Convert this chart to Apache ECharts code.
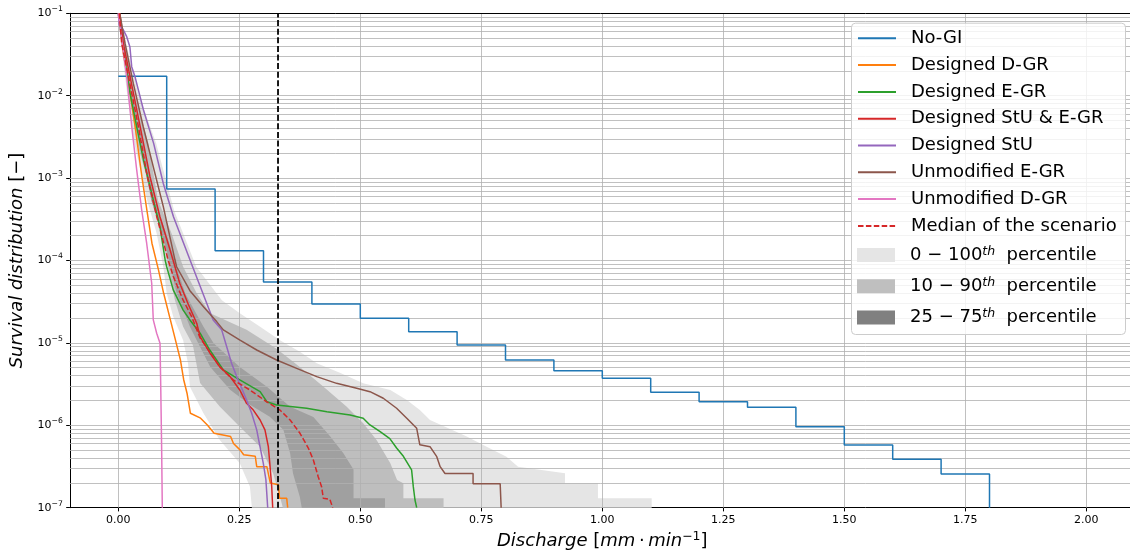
<!DOCTYPE html>
<html><head><meta charset="utf-8">
<script src="https://cdn.jsdelivr.net/npm/echarts@6/dist/echarts.min.js"></script>
<style>html,body{margin:0;padding:0;background:#fff}#c{width:1130px;height:554px}</style>
</head><body><div id="c"></div>
<script>
// ---------- axis ticks ----------
const xTicks = [0, 0.25, 0.5, 0.75, 1.0, 1.25, 1.5, 1.75, 2.0];
const yDecades = [1e-7, 1e-6, 1e-5, 1e-4, 1e-3, 1e-2, 1e-1];
const dischargeThreshold = 0.33;

// ---------- series values [discharge, survival] ----------
const noGI = [[0,1.72e-2],[0.1,7.4e-4],[0.2,1.31e-4],[0.3,5.5e-5],[0.4,2.97e-5],[0.5,1.99e-5],[0.6,1.37e-5],[0.7,9.4e-6],[0.8,6.2e-6],[0.9,4.6e-6],[1.0,3.73e-6],[1.1,2.51e-6],[1.2,1.93e-6],[1.3,1.66e-6],[1.4,9.6e-7],[1.5,5.75e-7],[1.6,3.86e-7],[1.7,2.57e-7],[1.8,1e-7]];
const designedDGR = [[0.002,1e-1],[0.0104,3.3e-2],[0.0244,1.07e-2],[0.0348,4.2e-3],[0.0487,1.04e-3],[0.059,4.1e-4],[0.0695,1.62e-4],[0.083,7.7e-5],[0.0937,4.0e-5],[0.1076,1.9e-5],[0.118,1.09e-5],[0.1284,6.2e-6],[0.135,3.6e-6],[0.142,2.45e-6],[0.149,1.4e-6],[0.17,1.22e-6],[0.184,1.01e-6],[0.198,8.0e-7],[0.232,7.3e-7],[0.238,6.0e-7],[0.252,5.0e-7],[0.259,4.4e-7],[0.283,4.2e-7],[0.286,3.15e-7],[0.307,3.15e-7],[0.314,2.0e-7],[0.331,1.9e-7],[0.333,1.3e-7],[0.348,1.3e-7],[0.350,1e-7]];
const designedEGR = [[0.0,1e-1],[0.0035,6.9e-2],[0.014,2.7e-2],[0.0243,1.07e-2],[0.038,4.2e-3],[0.052,1.66e-3],[0.069,6.5e-4],[0.086,2.57e-4],[0.097,1.0e-4],[0.1,8.4e-5],[0.1135,4.4e-5],[0.134,2.5e-5],[0.148,1.9e-5],[0.169,1.31e-5],[0.189,8.2e-6],[0.217,4.7e-6],[0.251,3.55e-6],[0.293,2.56e-6],[0.307,1.93e-6],[0.327,1.76e-6],[0.389,1.61e-6],[0.431,1.46e-6],[0.479,1.33e-6],[0.506,1.22e-6],[0.52,1.01e-6],[0.541,8.4e-7],[0.561,6.9e-7],[0.575,5.3e-7],[0.589,4.2e-7],[0.606,2.87e-7],[0.6095,1.8e-7],[0.613,1.24e-7],[0.6165,1e-7]];
const designedStUEGR = [[0.003,1e-1],[0.0104,4.3e-2],[0.0243,1.7e-2],[0.0452,4.2e-3],[0.0655,1.04e-3],[0.086,3.4e-4],[0.107,1.34e-4],[0.127,5.3e-5],[0.145,2.9e-5],[0.162,1.73e-5],[0.169,1.19e-5],[0.1895,7.5e-6],[0.21,5.1e-6],[0.231,3.9e-6],[0.251,2.68e-6],[0.265,1.85e-6],[0.279,1.53e-6],[0.293,1.16e-6],[0.303,8.8e-7],[0.31,5.5e-7],[0.313,3.46e-7],[0.317,1.8e-7],[0.319,1e-7]];
const designedStU = [[0.0,1e-1],[0.002,7.2e-2],[0.0103,6.3e-2],[0.0174,5.2e-2],[0.024,3.9e-2],[0.0277,2.25e-2],[0.0345,1.7e-2],[0.052,6.7e-3],[0.073,2.64e-3],[0.093,8.6e-4],[0.114,3.4e-4],[0.148,1.02e-4],[0.196,1.9e-5],[0.2136,1.44e-5],[0.224,9.0e-6],[0.234,5.65e-6],[0.2446,3.9e-6],[0.255,2.81e-6],[0.265,2.03e-6],[0.2756,1.4e-6],[0.286,8.8e-7],[0.2928,5.5e-7],[0.2996,3.46e-7],[0.305,2.17e-7],[0.3087,1e-7]];
const unmodifiedEGR = [[0.003,1e-1],[0.014,4.3e-2],[0.031,1.41e-2],[0.0515,4.2e-3],[0.0723,1.37e-3],[0.093,4.5e-4],[0.117,1.02e-4],[0.1205,8.4e-5],[0.148,4.3e-5],[0.176,2.75e-5],[0.2036,1.8e-5],[0.217,1.44e-5],[0.2514,1.08e-5],[0.286,8.2e-6],[0.327,6.2e-6],[0.3686,4.9e-6],[0.41,3.9e-6],[0.451,3.23e-6],[0.4926,2.81e-6],[0.52,2.56e-6],[0.5475,2.13e-6],[0.575,1.61e-6],[0.596,1.22e-6],[0.6165,9.2e-7],[0.623,5.8e-7],[0.644,5.5e-7],[0.658,4.16e-7],[0.665,3.15e-7],[0.675,2.6e-7],[0.733,2.6e-7],[0.733,1.95e-7],[0.789,1.95e-7],[0.791,1e-7]];
const unmodifiedDGR = [[0.0,1e-1],[0.0035,6.9e-2],[0.0174,1.7e-2],[0.0278,4.2e-3],[0.038,1.26e-3],[0.0483,4.1e-4],[0.0586,1.62e-4],[0.069,5.3e-5],[0.0723,1.9e-5],[0.0793,1.31e-5],[0.0862,9.9e-6],[0.0876,3.2e-6],[0.0896,5.0e-7],[0.0909,1e-7]];
const medianScenario = [[0.002,1e-1],[0.007,4.3e-2],[0.021,1.7e-2],[0.0415,4.2e-3],[0.06,1.04e-3],[0.0795,3.4e-4],[0.1033,1.0e-4],[0.1137,6.4e-5],[0.134,3.3e-5],[0.1516,2.08e-5],[0.169,1.15e-5],[0.19,7.6e-6],[0.21,5.1e-6],[0.2376,3.55e-6],[0.272,2.68e-6],[0.3066,1.93e-6],[0.334,1.53e-6],[0.355,1.16e-6],[0.3754,8.0e-7],[0.3926,5.3e-7],[0.403,3.8e-7],[0.413,2.38e-7],[0.42,1.8e-7],[0.4236,1.3e-7],[0.437,1.27e-7],[0.443,1e-7]];

// percentile bands: left and right edges, top to bottom
const p0_100Left = [[0.0,1e-1],[0.0056,4.36e-2],[0.018,1.08e-2],[0.033,2.67e-3],[0.0596,5.4e-4],[0.079,2.16e-4],[0.093,8.4e-5],[0.1,4.0e-5],[0.1136,2.08e-5],[0.134,1.08e-5],[0.144,5.7e-6],[0.148,2.94e-6],[0.176,1.4e-6],[0.21,6.6e-7],[0.251,3.46e-7],[0.272,1.8e-7],[0.276,1e-7]];
const p0_100Right = [[0.0035,1e-1],[0.016,4.36e-2],[0.041,1.08e-2],[0.078,2.67e-3],[0.115,4.1e-4],[0.161,8.4e-5],[0.214,3.3e-5],[0.251,2.29e-5],[0.293,1.57e-5],[0.334,1.08e-5],[0.375,7.8e-6],[0.41,5.65e-6],[0.459,4.3e-6],[0.506,3.23e-6],[0.562,2.68e-6],[0.596,2.03e-6],[0.623,1.53e-6],[0.644,1.16e-6],[0.72,7.3e-7],[0.761,5.5e-7],[0.802,4.16e-7],[0.826,3.15e-7],[0.923,2.61e-7],[0.923,1.98e-7],[0.991,1.98e-7],[0.991,1.3e-7],[1.102,1.3e-7],[1.102,1e-7]];
const p10_90Left = [[0.0015,1e-1],[0.009,4.36e-2],[0.022,1.08e-2],[0.039,2.67e-3],[0.072,5.4e-4],[0.089,2.16e-4],[0.103,8.4e-5],[0.117,3.3e-5],[0.134,1.57e-5],[0.154,9.4e-6],[0.169,3.26e-6],[0.21,1.68e-6],[0.251,9.6e-7],[0.293,5.5e-7],[0.32,2.6e-7],[0.334,1.36e-7],[0.34,1e-7]];
const p10_90Right = [[0.0045,1e-1],[0.014,4.36e-2],[0.033,1.08e-2],[0.062,2.67e-3],[0.082,5.4e-4],[0.11,2.14e-4],[0.134,8.4e-5],[0.162,4.0e-5],[0.19,2.29e-5],[0.265,1.44e-5],[0.327,8.5e-6],[0.375,5.1e-6],[0.424,2.94e-6],[0.472,1.68e-6],[0.506,1.06e-6],[0.534,6.6e-7],[0.562,3.46e-7],[0.576,2.17e-7],[0.589,1.98e-7],[0.589,1.3e-7],[0.672,1.3e-7],[0.672,1e-7]];
const p25_75Left = [[0.0025,1e-1],[0.011,4.36e-2],[0.025,1.08e-2],[0.045,2.67e-3],[0.068,5.4e-4],[0.0998,1.34e-4],[0.1206,4.0e-5],[0.148,1.57e-5],[0.162,1.08e-5],[0.19,5.1e-6],[0.231,2.7e-6],[0.272,1.77e-6],[0.313,1.27e-6],[0.341,8.8e-7],[0.355,4.57e-7],[0.361,2.6e-7],[0.375,1.36e-7],[0.379,1e-7]];
const p25_75Right = [[0.0035,1e-1],[0.013,4.36e-2],[0.0285,1.08e-2],[0.051,2.67e-3],[0.076,5.4e-4],[0.11,1.34e-4],[0.138,4.0e-5],[0.176,1.57e-5],[0.197,9.9e-6],[0.251,5.1e-6],[0.307,2.94e-6],[0.355,1.68e-6],[0.403,1.26e-6],[0.438,7.3e-7],[0.465,4.57e-7],[0.486,2.9e-7],[0.486,1.3e-7],[0.551,1.3e-7],[0.551,1e-7]];

// ---------- derived grid values ----------
const X_MIN = -0.1, X_MAX = 2.1;
const yMinor = [];
for (let e = -7; e <= -2; e++) for (let k = 2; k <= 9; k++) yMinor.push(Number((k * Math.pow(10, e)).toPrecision(3)));

const FONT = 'DejaVu Sans';
const C = { blue:'#1f77b4', orange:'#ff7f0e', green:'#2ca02c', red:'#d62728', purple:'#9467bd', brown:'#8c564b', pink:'#e377c2' };

function lineS(name, data, color, extra) {
  return Object.assign({
    type: 'line', name, data, showSymbol: false, symbol: 'none', z: 10, silent: true,
    lineStyle: { color, width: 1.5 }, itemStyle: { color }, emphasis: { disabled: true }
  }, extra || {});
}
function bandS(name, left, right, color) {
  const poly = left.concat(right.slice().reverse());
  return {
    type: 'custom', name, coordinateSystem: 'cartesian2d', z: 1, silent: true,
    itemStyle: { color }, data: poly, encode: { x: 0, y: 1 },
    renderItem: function (params, api) {
      if (params.dataIndex !== 0) return null;
      return { type: 'polygon', shape: { points: poly.map(p => api.coord(p)) }, style: { fill: color } };
    }
  };
}

const minorTickLen = 0.0044; // in x data units (~2 px)
const gridLines = []
  .concat(xTicks.map(v => ({ xAxis: v })))
  .concat(yDecades.slice(1, -1).map(v => ({ yAxis: v })))
  .concat(yMinor.map(v => ({ yAxis: v })))
  .concat([{ yAxis: 1e-1, lineStyle: { color: '#000', width: 1 } }])
  .concat(yMinor.map(v => [
    { coord: [X_MIN - minorTickLen, v], lineStyle: { color: '#000', width: 0.8 } },
    { coord: [X_MIN, v] }
  ]));

const chart = echarts.init(document.getElementById('c'));
chart.setOption({
  animation: false,
  backgroundColor: '#fff',
  grid: { left: 69.9, right: -4.7, top: 13.3, bottom: 46.3, containLabel: false, outerBoundsMode: 'none' },
  xAxis: {
    type: 'value', min: X_MIN, max: X_MAX,
    name: '{i|Discharge} [{i|mm}\u2009·\u2009{i|min}{s|\u22121}]',
    nameLocation: 'middle', nameGap: 22,
    nameTextStyle: { fontSize: 18, fontFamily: FONT, color: '#000', lineHeight: 22,
      rich: { i: { fontStyle: 'italic', fontSize: 18, fontFamily: FONT, color: '#000', lineHeight: 22 },
              s: { fontSize: 12.5, fontFamily: FONT, color: '#000', verticalAlign: 'top', lineHeight: 12 } } },
    axisLine: { show: true, onZero: false, lineStyle: { color: '#000', width: 1 } },
    axisTick: { show: true, length: 3.7, customValues: xTicks, lineStyle: { color: '#000', width: 1 } },
    axisLabel: { customValues: xTicks, margin: 7, fontSize: 11, fontFamily: FONT, color: '#000',
      formatter: v => v.toFixed(2) },
    splitLine: { show: false }
  },
  yAxis: {
    type: 'log', logBase: 10, min: 1e-7, max: 1e-1,
    name: '{i|Survival distribution} [\u2212]', nameLocation: 'middle', nameGap: 42,
    nameTextStyle: { fontSize: 18, fontFamily: FONT, color: '#000',
      rich: { i: { fontStyle: 'italic', fontSize: 18, fontFamily: FONT, color: '#000' } } },
    axisLine: { show: true, onZero: false, lineStyle: { color: '#000', width: 1 } },
    axisTick: { show: true, length: 3.7, customValues: yDecades, lineStyle: { color: '#000', width: 1 } },
    axisLabel: { customValues: yDecades, margin: 7, fontSize: 11, fontFamily: FONT, color: '#000',
      formatter: v => '{b|10}{s|\u2212' + (-Math.round(Math.log10(v))) + '}',
      rich: { b: { fontSize: 11, fontFamily: FONT, color: '#000', lineHeight: 16 },
              s: { fontSize: 7.7, fontFamily: FONT, color: '#000', verticalAlign: 'top', lineHeight: 8 } } },
    splitLine: { show: false }, minorSplitLine: { show: false }
  },
  legend: [{
    orient: 'vertical', left: 857, top: 28.3, padding: 0, z: 30,
    itemWidth: 38, itemHeight: 14, itemGap: 6.8, selectedMode: false,
    itemStyle: { opacity: 0 },
    data: ['No-GI','Designed D-GR','Designed E-GR','Designed StU & E-GR','Designed StU','Unmodified E-GR','Unmodified D-GR','Median of the scenario'],
    textStyle: { fontSize: 18, fontFamily: FONT, color: '#000', lineHeight: 20, padding: [0,0,0,10] }
  }, {
    orient: 'vertical', left: 857, top: 245, padding: 0, z: 30,
    itemWidth: 38, itemHeight: 14, itemGap: 11.2, selectedMode: false, icon: 'rect',
    data: [
      { name: '0-100', itemStyle: { color: '#e5e5e5' } },
      { name: '10-90', itemStyle: { color: '#bfbfbf' } },
      { name: '25-75', itemStyle: { color: '#808080' } }
    ],
    formatter: function (n) {
      const a = n.split('-');
      return a[0] + ' \u2212 ' + a[1] + '{s|th}  percentile';
    },
    textStyle: { fontSize: 18, fontFamily: FONT, color: '#000', lineHeight: 20, padding: [0,0,0,10],
      rich: { s: { fontSize: 12.5, fontStyle: 'italic', fontFamily: FONT, color: '#000', verticalAlign: 'top', lineHeight: 11 } } }
  }],
  graphic: [{
    type: 'rect', left: 851, top: 22.7, z: 25, silent: true,
    shape: { width: 274, height: 311.3, r: 4 },
    style: { fill: 'rgba(255,255,255,0.8)', stroke: '#cccccc', lineWidth: 1 }
  }],
  series: [
    bandS('0-100', p0_100Left, p0_100Right, '#e5e5e5'),
    bandS('10-90', p10_90Left, p10_90Right, '#bebebe'),
    bandS('25-75', p25_75Left, p25_75Right, '#a0a0a0'),
    { type: 'line', name: 'grid', data: [], silent: true, clip: false,
      markLine: { silent: true, z: 5, precision: 12, symbol: ['none','none'], label: { show: false }, animation: false,
        emphasis: { disabled: true },
        lineStyle: { color: '#b0b0b0', width: 0.8, type: 'solid' }, data: gridLines } },
    lineS('No-GI', noGI, C.blue, { step: 'end' }),
    lineS('Designed D-GR', designedDGR, C.orange),
    lineS('Designed E-GR', designedEGR, C.green),
    lineS('Designed StU & E-GR', designedStUEGR, C.red),
    lineS('Designed StU', designedStU, C.purple),
    lineS('Unmodified E-GR', unmodifiedEGR, C.brown),
    lineS('Unmodified D-GR', unmodifiedDGR, C.pink),
    lineS('Median of the scenario', medianScenario, C.red, { lineStyle: { color: C.red, width: 1.5, type: [5.5, 2.4] } }),
    lineS('threshold', [[dischargeThreshold, 1e-7], [dischargeThreshold, 1e-1]], '#000',
      { z: 11, lineStyle: { color: '#000', width: 1.8, type: [6, 2.6] } })
  ]
});
</script></body></html>
